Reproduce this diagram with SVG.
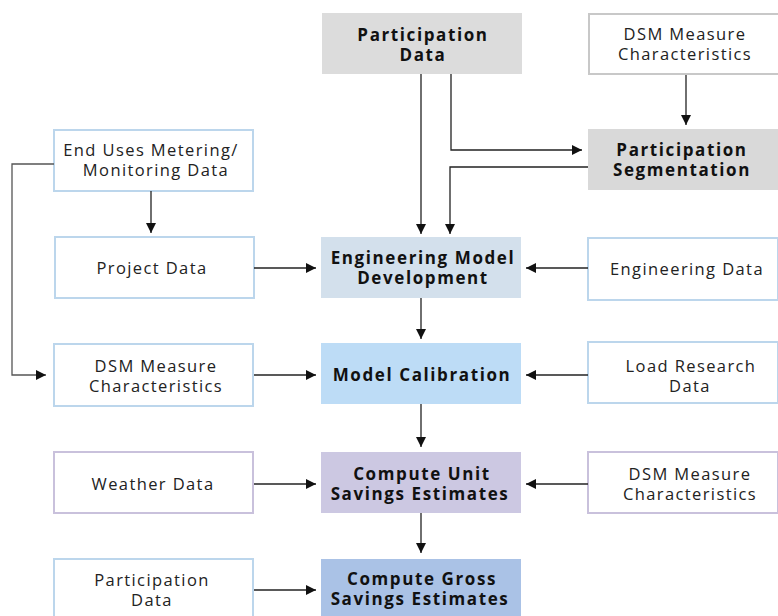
<svg xmlns="http://www.w3.org/2000/svg" width="778" height="616" viewBox="0 0 778 616">
<defs>
<marker id="ah" viewBox="0 0 10 10" refX="10" refY="5" markerWidth="10" markerHeight="10" markerUnits="userSpaceOnUse" orient="auto"><path d="M0,0 L10,5 L0,10 z" fill="#111"/></marker>
<style>
text{font-family:"Open Sans","Liberation Sans",sans-serif;font-size:16.5px;letter-spacing:1.4px;fill:#222;text-anchor:middle}
.b{font-weight:bold;font-size:17px;letter-spacing:1.6px;fill:#111}
.in{fill:#fff;stroke-width:2}
.blue{stroke:#bcd6ec}
.gray{stroke:#c8c8c8}
.purp{stroke:#c9c1dc}
.c line,.c path{stroke:#222;stroke-width:1.3;fill:none;marker-end:url(#ah)}
</style>
</defs>
<rect width="778" height="616" fill="#fff"/>
<g id="participation-data-top"><rect x="322" y="13" width="200" height="61" fill="#dcdcdc"/><text class="b" x="423" y="41">Participation</text><text class="b" x="423" y="61">Data</text></g>
<g id="dsm-top"><rect class="in gray" x="589" y="14" width="190" height="60"/><text x="685" y="40">DSM Measure</text><text x="685" y="60">Characteristics</text></g>
<g id="participation-segmentation"><rect x="588" y="129" width="190" height="61" fill="#d9d9d9"/><text class="b" x="682" y="156">Participation</text><text class="b" x="682" y="176">Segmentation</text></g>
<g id="end-uses"><rect class="in blue" x="54" y="130" width="199" height="61"/><text x="151" y="156">End Uses Metering/</text><text x="156" y="176">Monitoring Data</text></g>
<g id="project-data"><rect class="in blue" x="55" y="237" width="199" height="61"/><text x="152" y="274">Project Data</text></g>
<g id="engineering-model"><rect x="321" y="237" width="200" height="61" fill="#d3e0ec"/><text class="b" x="423" y="264">Engineering Model</text><text class="b" x="423" y="284">Development</text></g>
<g id="engineering-data"><rect class="in blue" x="588" y="238" width="190" height="62"/><text x="687" y="275">Engineering Data</text></g>
<g id="dsm-left"><rect class="in blue" x="54" y="344" width="199" height="62"/><text x="156" y="372">DSM Measure</text><text x="156" y="392">Characteristics</text></g>
<g id="model-calibration"><rect x="321" y="343" width="200" height="61" fill="#bddcf6"/><text class="b" x="422" y="381">Model Calibration</text></g>
<g id="load-research"><rect class="in blue" x="588" y="342" width="190" height="61"/><text x="691" y="372">Load Research</text><text x="690" y="392">Data</text></g>
<g id="weather-data"><rect class="in purp" x="54" y="452" width="199" height="61"/><text x="153" y="490">Weather Data</text></g>
<g id="compute-unit"><rect x="321" y="452" width="200" height="61" fill="#ccc8e2"/><text class="b" x="422" y="480">Compute Unit</text><text class="b" x="420" y="500">Savings Estimates</text></g>
<g id="dsm-right"><rect class="in purp" x="588" y="452" width="190" height="61"/><text x="690" y="480">DSM Measure</text><text x="690" y="500">Characteristics</text></g>
<g id="participation-data-bottom"><rect class="in blue" x="54" y="559" width="199" height="62"/><text x="152" y="586">Participation</text><text x="152" y="606">Data</text></g>
<g id="compute-gross"><rect x="321" y="559" width="200" height="62" fill="#aac2e6"/><text class="b" x="422" y="585">Compute Gross</text><text class="b" x="420" y="605">Savings Estimates</text></g>
<g id="connectors" class="c">
<line x1="421" y1="74" x2="421" y2="234"/>
<path d="M451,74 V150 H582"/>
<path d="M588,167 H450 V234"/>
<line x1="686" y1="75" x2="686" y2="125"/>
<path d="M54,164 H12 V375 H46" style="stroke:#555"/>
<line x1="151" y1="191" x2="151" y2="233"/>
<line x1="254" y1="268" x2="316" y2="268"/>
<line x1="588" y1="268" x2="526" y2="268"/>
<line x1="421" y1="298" x2="421" y2="339"/>
<line x1="254" y1="375" x2="316" y2="375"/>
<line x1="588" y1="375" x2="526" y2="375"/>
<line x1="421" y1="404" x2="421" y2="447"/>
<line x1="254" y1="484" x2="316" y2="484"/>
<line x1="588" y1="484" x2="526" y2="484"/>
<line x1="421" y1="513" x2="421" y2="553"/>
<line x1="254" y1="590" x2="316" y2="590"/>
</g>
</svg>
